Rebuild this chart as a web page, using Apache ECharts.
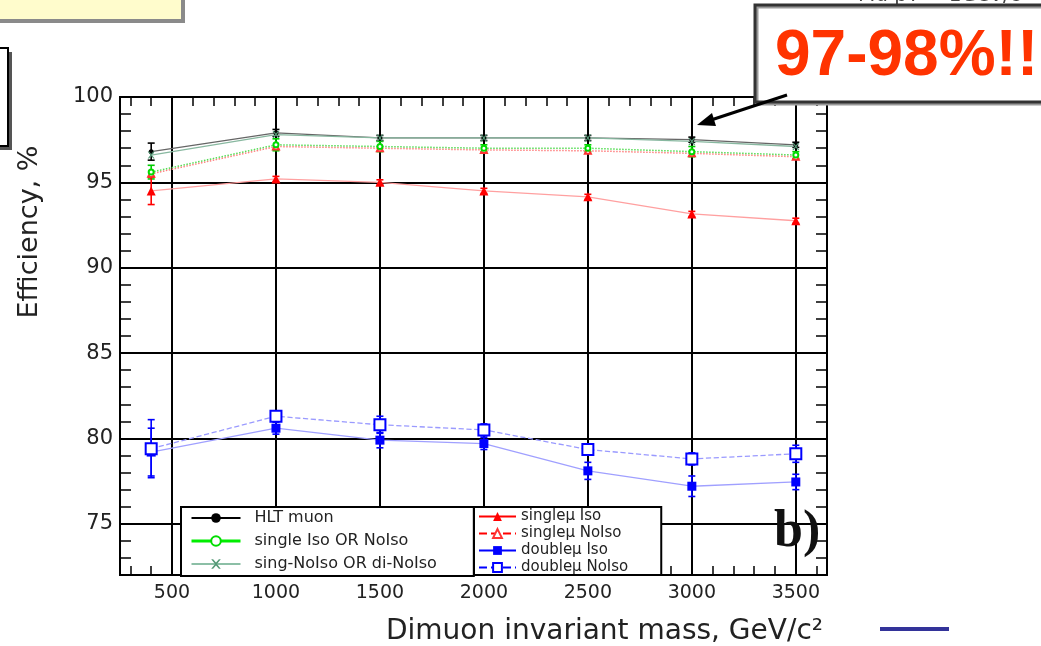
<!DOCTYPE html>
<html>
<head>
<meta charset="utf-8">
<script src="https://cdn.jsdelivr.net/npm/echarts@6/dist/echarts.min.js"></script>
<style>
  html, body { margin: 0; padding: 0; background: #fff; }
  #chart { width: 1041px; height: 646px; }
</style>
</head>
<body>
<div id="chart"></div>
<script>
  // x: dimuon invariant mass (GeV/c^2)
  const mass = [400, 1000, 1500, 2000, 2500, 3000, 3500]

  // efficiencies, %
  const hltMuon = [96.8, 97.9, 97.6, 97.6, 97.6, 97.5, 97.2]
  const singleIsoOrNoIso = [95.6, 97.2, 97.1, 97.0, 97.0, 96.8, 96.6]
  const singNoIsoOrDiNoIso = [96.6, 97.8, 97.6, 97.6, 97.6, 97.4, 97.1]
  const singleMuIso = [94.5, 95.2, 95.0, 94.5, 94.15, 93.15, 92.75]
  const singleMuNoIso = [95.5, 97.1, 97.0, 96.9, 96.85, 96.7, 96.5]
  const doubleMuIso = [79.2, 80.6, 79.9, 79.7, 78.1, 77.2, 77.45]
  const doubleMuNoIso = [79.4, 81.3, 80.8, 80.5, 79.35, 78.8, 79.1]

  // error bars (half widths)
  const hltMuonErr = [0.5, 0.2, 0.15, 0.15, 0.15, 0.15, 0.15]
  const singleIsoOrNoIsoErr = [0.4, 0.35, 0.3, 0.2, 0.2, 0.3, 0.2]
  const singleMuIsoErr = [0.8, 0.15, 0.15, 0.15, 0.15, 0.15, 0.15]
  const doubleMuIsoErr = [1.4, 0.35, 0.45, 0.35, 0.5, 0.6, 0.45]
  const doubleMuNoIsoErr = [1.7, 0.3, 0.5, 0.35, 0.3, 0.35, 0.5]

  const xTickLabels = [500, 1000, 1500, 2000, 2500, 3000, 3500]
  const yTickLabels = [75, 80, 85, 90, 95, 100]

  const FONT = 'DejaVu Sans'
  const gridBox = {left: 120, right: 214, top: 97, bottom: 71}

  const chart = echarts.init(document.getElementById('chart'), null, {renderer: 'canvas'})

  function pairs(vals) {
    return mass.map((m, i) => [m, vals[i]])
  }

  // vertical error bars through the axes
  function errorBars(vals, errs, color) {
    return {
      type: 'custom',
      silent: true,
      z: 3,
      encode: {x: 0, y: [1, 2]},
      data: mass.map((m, i) => [m, vals[i] - errs[i], vals[i] + errs[i]]),
      renderItem: function (params, api) {
        const lo = api.coord([api.value(0), api.value(1)])
        const hi = api.coord([api.value(0), api.value(2)])
        const w = 3.5
        const st = {stroke: color, lineWidth: 1.6}
        return {
          type: 'group',
          children: [
            {type: 'line', shape: {x1: lo[0], y1: lo[1], x2: hi[0], y2: hi[1]}, style: st},
            {type: 'line', shape: {x1: lo[0] - w, y1: lo[1], x2: lo[0] + w, y2: lo[1]}, style: st},
            {type: 'line', shape: {x1: hi[0] - w, y1: hi[1], x2: hi[0] + w, y2: hi[1]}, style: st}
          ]
        }
      }
    }
  }

  const xSymbol = 'path://M0,0L2,0L5,3.5L8,0L10,0L6,5L10,10L8,10L5,6.5L2,10L0,10L4,5Z'

  // minor tick axes (no labels, no grid)
  function minorX(gridIndex, position, len) {
    return {
      type: 'value', gridIndex: gridIndex, position: position,
      min: 250, max: 3650, minInterval: 100, maxInterval: 100,
      axisLine: {show: true, lineStyle: {color: '#000', width: 2}},
      axisTick: {show: true, inside: true, length: len, lineStyle: {color: '#000', width: 1.5}},
      axisLabel: {show: false},
      splitLine: {show: false}
    }
  }
  function minorY(gridIndex, position) {
    return {
      type: 'value', gridIndex: gridIndex, position: position,
      min: 72, max: 100, interval: 1,
      axisLine: {show: true, lineStyle: {color: '#000', width: 2}},
      axisTick: {show: true, inside: true, length: 11, lineStyle: {color: '#000', width: 1.5}},
      axisLabel: {show: false},
      splitLine: {show: false}
    }
  }

  chart.setOption({
    animation: false,
    backgroundColor: '#fff',
    grid: [
      Object.assign({}, gridBox),
      Object.assign({}, gridBox)
    ],
    xAxis: [
      {
        type: 'value', gridIndex: 0, position: 'bottom',
        min: 250, max: 3650, minInterval: 500, maxInterval: 500,
        axisLine: {show: true, lineStyle: {color: '#000', width: 2}},
        axisTick: {show: false},
        axisLabel: {
          margin: 9, color: '#222', fontFamily: FONT, fontSize: 19,
          formatter: v => xTickLabels.indexOf(v) >= 0 ? String(v) : ''
        },
        splitLine: {show: true, lineStyle: {color: '#000', width: 2}}
      },
      minorX(0, 'top', 9),
      minorX(1, 'bottom', 9)
    ],
    yAxis: [
      {
        type: 'value', gridIndex: 0, position: 'left',
        min: 72, max: 100, minInterval: 5, maxInterval: 5,
        axisLine: {show: true, lineStyle: {color: '#000', width: 2}},
        axisTick: {show: false},
        axisLabel: {
          margin: 7, color: '#222', fontFamily: FONT, fontSize: 21,
          formatter: v => yTickLabels.indexOf(v) >= 0 ? String(v) : ''
        },
        splitLine: {show: true, lineStyle: {color: '#000', width: 2}}
      },
      minorY(0, 'right'),
      minorY(1, 'left')
    ],
    legend: [
      {
        orient: 'vertical', left: 181, top: 507,
        backgroundColor: '#fff', borderColor: '#000', borderWidth: 2,
        padding: [3, 37, 4, 9], itemGap: 7, itemWidth: 49, itemHeight: 12,
        textStyle: {fontFamily: FONT, fontSize: 16, color: '#222', padding: [0, 0, 0, 9]},
        selectedMode: false,
        data: [
          {name: 'HLT muon', lineStyle: {color: '#000', width: 2}},
          {name: 'single Iso OR NoIso', lineStyle: {color: '#00ee00', width: 3, type: 'solid'}},
          {name: 'sing-NoIso OR di-NoIso', lineStyle: {color: '#66aa88', width: 1.5}}
        ]
      },
      {
        orient: 'vertical', left: 474, top: 507,
        backgroundColor: '#fff', borderColor: '#000', borderWidth: 2,
        padding: [2, 33, 0, 4], itemGap: 2, itemWidth: 37, itemHeight: 11,
        textStyle: {fontFamily: FONT, fontSize: 15, color: '#222'},
        selectedMode: false,
        data: [
          {name: 'singleμ Iso', lineStyle: {color: '#ff0000', width: 2}},
          {name: 'singleμ NoIso', lineStyle: {color: '#ff0000', width: 2, type: 'dashed'}},
          {name: 'doubleμ Iso', lineStyle: {color: '#0000ff', width: 2}},
          {name: 'doubleμ NoIso', lineStyle: {color: '#0000ff', width: 2, type: 'dashed'}}
        ]
      }
    ],
    series: [
      {
        name: 'singleμ NoIso', type: 'line', data: pairs(singleMuNoIso),
        symbol: 'emptyTriangle', symbolSize: 6,
        itemStyle: {color: '#ff3333'},
        lineStyle: {color: '#ff8080', width: 1.5, type: 'dotted'}
      },
      {
        name: 'single Iso OR NoIso', type: 'line', data: pairs(singleIsoOrNoIso),
        symbol: 'emptyCircle', symbolSize: 5,
        itemStyle: {color: '#00dd00'},
        lineStyle: {color: '#55dd55', width: 1.5, type: 'dotted'}
      },
      {
        name: 'HLT muon', type: 'line', data: pairs(hltMuon),
        symbol: 'circle', symbolSize: 5,
        itemStyle: {color: '#000'},
        lineStyle: {color: '#666', width: 1.3}
      },
      {
        name: 'sing-NoIso OR di-NoIso', type: 'line', data: pairs(singNoIsoOrDiNoIso),
        symbol: xSymbol, symbolSize: 7,
        itemStyle: {color: '#559977'},
        lineStyle: {color: '#88b8a0', width: 1.3}
      },
      {
        name: 'singleμ Iso', type: 'line', data: pairs(singleMuIso),
        symbol: 'triangle', symbolSize: 9,
        itemStyle: {color: '#ff0000'},
        lineStyle: {color: '#ffa0a0', width: 1.3}
      },
      {
        name: 'doubleμ Iso', type: 'line', data: pairs(doubleMuIso),
        symbol: 'rect', symbolSize: 9,
        itemStyle: {color: '#0000ff'},
        lineStyle: {color: '#a0a0ff', width: 1.3}
      },
      {
        name: 'doubleμ NoIso', type: 'line', data: pairs(doubleMuNoIso),
        symbol: 'emptyRect', symbolSize: 11,
        itemStyle: {color: '#0000ff', borderWidth: 2},
        lineStyle: {color: '#9a9aff', width: 1.3, type: 'dashed'}
      },
      errorBars(hltMuon, hltMuonErr, '#000'),
      errorBars(singleIsoOrNoIso, singleIsoOrNoIsoErr, '#00cc00'),
      errorBars(singleMuIso, singleMuIsoErr, '#ff0000'),
      errorBars(doubleMuIso, doubleMuIsoErr, '#0000ff'),
      errorBars(doubleMuNoIso, doubleMuNoIsoErr, '#0000ff')
    ],
    graphic: [
      // axis titles
      {
        type: 'text', x: 30, y: 232, rotation: Math.PI / 2, z: 10,
        style: {text: 'Efficiency, %', fontFamily: FONT, fontSize: 27, fill: '#222',
          align: 'center', verticalAlign: 'middle'}
      },
      {
        type: 'text', x: 823, y: 632, z: 10,
        style: {text: 'Dimuon invariant mass, GeV/c²', fontFamily: FONT, fontSize: 28, fill: '#222',
          align: 'right', verticalAlign: 'middle'}
      },
      // b) label
      {
        type: 'text', x: 774, y: 533, z: 10,
        style: {text: 'b)', fontFamily: 'Liberation Serif', fontWeight: 'bold', fontSize: 52, fill: '#111',
          align: 'left', verticalAlign: 'middle'}
      },
      // slide overlays
      {
        type: 'rect', z: 20, shape: {x: -5, y: -5, width: 188, height: 26},
        style: {fill: '#fffccc', stroke: '#8a8a8a', lineWidth: 4}
      },
      {
        type: 'rect', z: 20, shape: {x: -5, y: 52, width: 17, height: 98},
        style: {fill: '#555'}
      },
      {
        type: 'rect', z: 21, shape: {x: -5, y: 48, width: 13, height: 98},
        style: {fill: '#fff', stroke: '#000', lineWidth: 2}
      },
      {
        type: 'text', x: 858, y: 6, z: 20,
        style: {text: 'Mu pT > 1GeV/c', fontFamily: FONT, fontSize: 20, fill: '#444',
          align: 'left', verticalAlign: 'bottom'}
      },
      {
        type: 'rect', z: 21, shape: {x: 755, y: 5, width: 300, height: 97},
        style: {fill: '#fff', stroke: '#333', lineWidth: 3, shadowColor: '#999', shadowOffsetX: 2, shadowOffsetY: 2}
      },
      {
        type: 'text', x: 775, y: 57, z: 22,
        style: {text: '97-98%!!', fontFamily: 'Liberation Sans', fontWeight: 'bold', fontSize: 64, fill: '#ff3300',
          align: 'left', verticalAlign: 'middle'}
      },
      {
        type: 'line', z: 22, shape: {x1: 787, y1: 95, x2: 708, y2: 121},
        style: {stroke: '#000', lineWidth: 3}
      },
      {
        type: 'polygon', z: 22, shape: {points: [[697, 125], [712, 113], [716, 126]]},
        style: {fill: '#000'}
      },
      {
        type: 'line', z: 22, shape: {x1: 880, y1: 629, x2: 949, y2: 629},
        style: {stroke: '#333399', lineWidth: 4}
      }
    ]
  })
</script>
</body>
</html>
